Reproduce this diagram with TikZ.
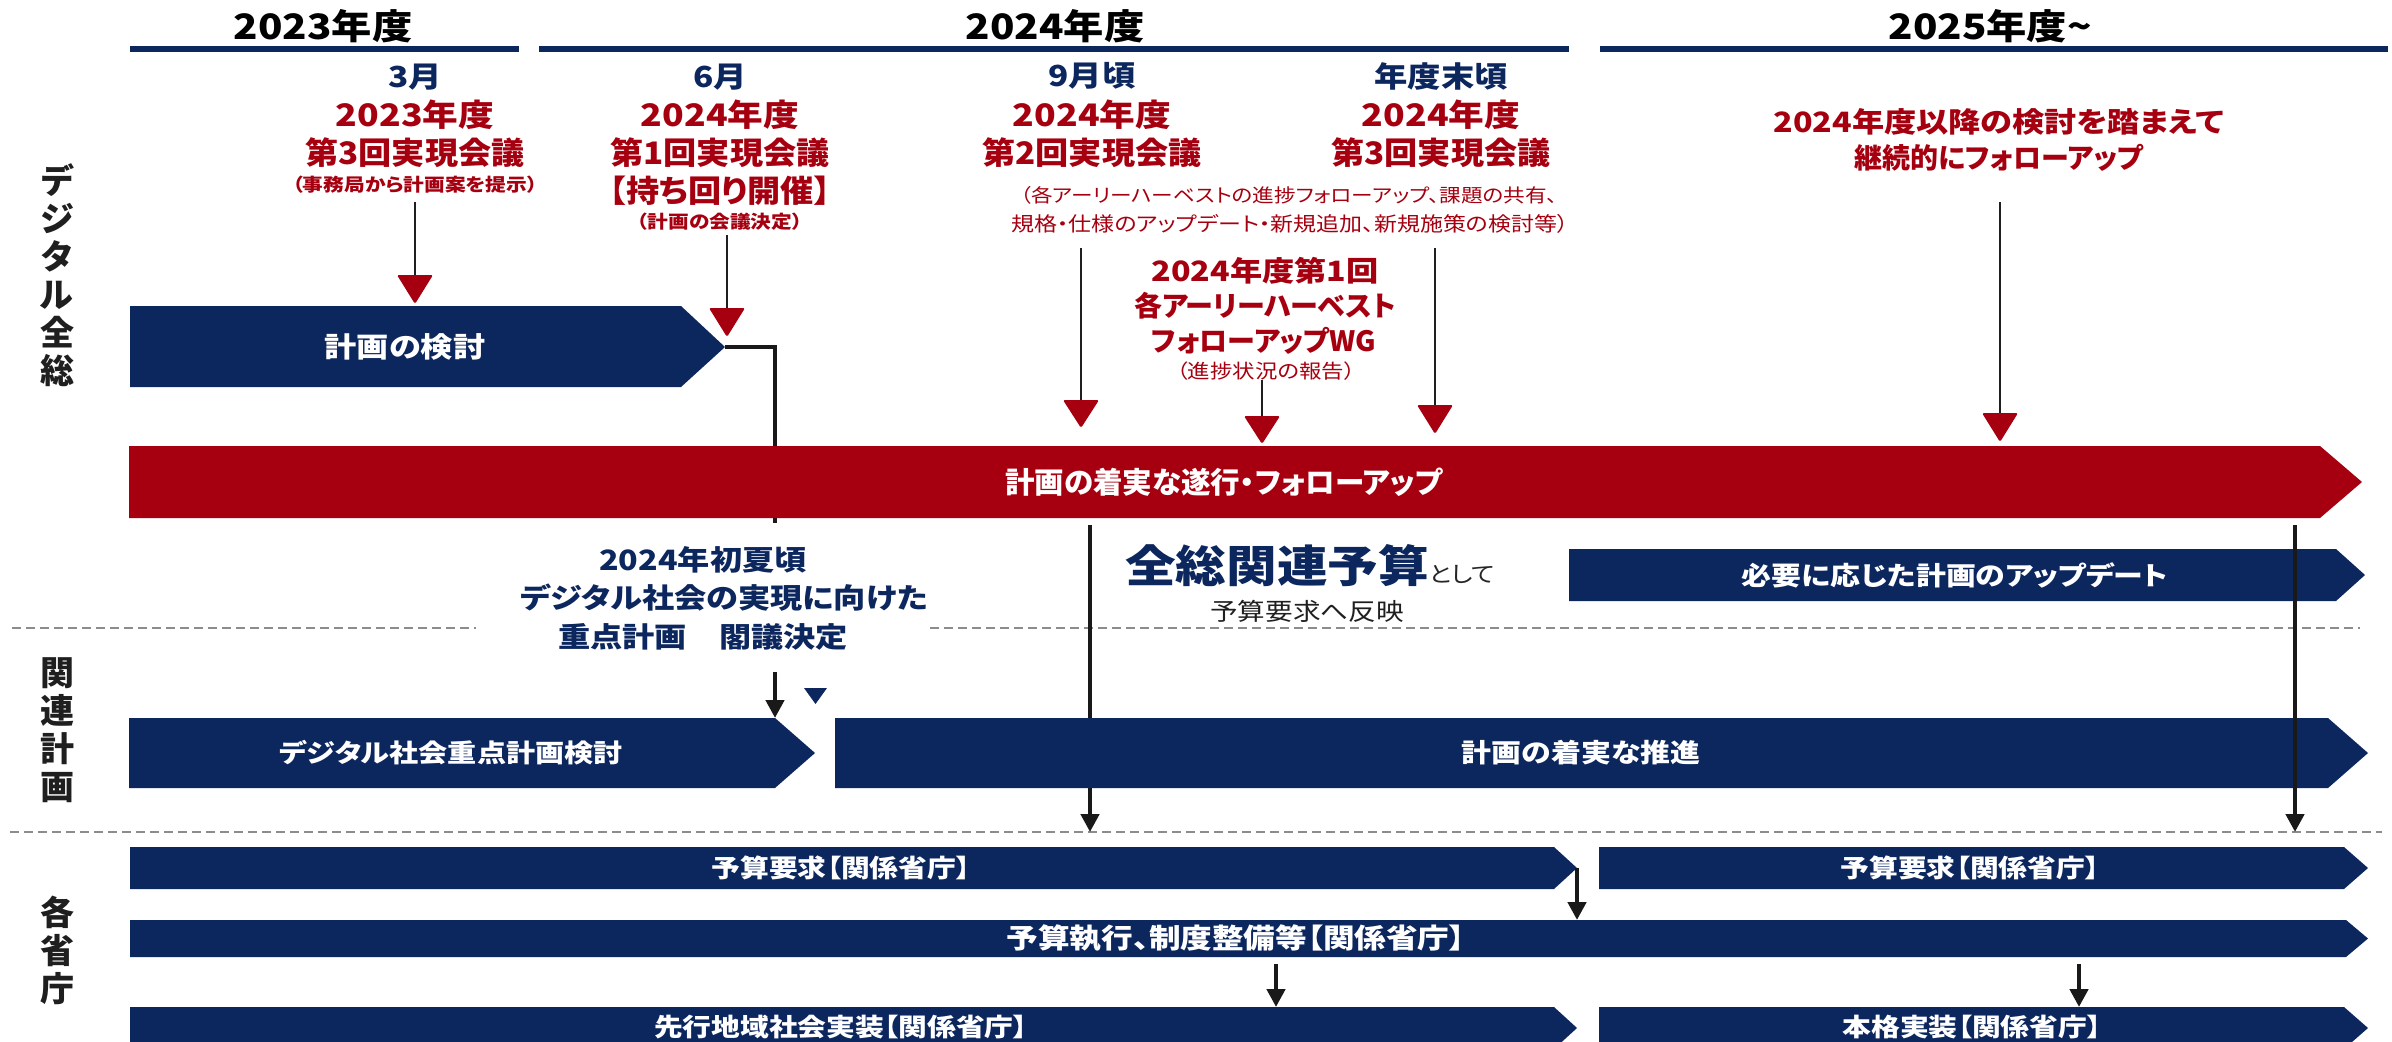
\documentclass[tikz,border=0pt]{standalone}
\usepackage{fontspec}
\setmainfont{Noto Sans CJK JP}[FakeStretch=1.15,RawFeature=+palt]
\newfontfamily\jpA{Noto Sans CJK JP}[FakeStretch=1.0,RawFeature=+palt]
\newfontfamily\jpB{Noto Sans CJK JP}[FakeStretch=1.07,RawFeature=+palt]
\usetikzlibrary{arrows.meta}
\definecolor{navy}{RGB}{12,38,94}
\definecolor{mred}{RGB}{166,0,16}
\definecolor{dgray}{RGB}{140,140,140}
\newcommand{\fsz}[1]{\fontsize{#1}{#1}\selectfont}
\newcommand{\redtri}[3]{\fill[mred,rounded corners=1.5pt] (#1-18,#2) -- (#1+18,#2) -- (#1,#3) -- cycle;}
\begin{document}
\begin{tikzpicture}[x=1pt,y=-1pt,
  every node/.style={inner sep=0pt, outer sep=0pt},
  hdr/.style={font=\fsz{35}\bfseries, text=black},
  mon/.style={font=\fsz{29}\bfseries, text=navy},
  rtx/.style={font=\fsz{31}\bfseries, text=mred},
  rmt/.style={font=\jpB\fsz{31}\bfseries, text=mred},
  wgtx/.style={font=\fsz{28}\bfseries, text=mred},
  wgkana/.style={font=\jpA\fsz{28}\bfseries, text=mred},
  rsm/.style={font=\fsz{18}\bfseries, text=mred},
  rrg/.style={font=\fsz{19.5}, text=mred},
  wtx/.style={font=\fsz{28}\bfseries, text=white},
  wmid/.style={font=\fsz{26}\bfseries, text=white},
  wsm/.style={font=\fsz{25}\bfseries, text=white},
  ntx/.style={font=\fsz{28}\bfseries, text=navy},
  sidelbl/.style={font=\jpA\fontsize{34}{38}\selectfont\bfseries, text=black!88, align=center},
  fineline/.style={line width=1.6pt, draw=black!88},
  heavyline/.style={line width=4.5pt, draw=black!90},
  downarr/.style={heavyline, -{Triangle[length=18pt,width=18pt]}},
  sepline/.style={draw=dgray, line width=2.5pt, dash pattern=on 9pt off 5pt},
  yrline/.style={draw=navy, line width=6pt}]
\useasboundingbox (0,0) rectangle (2392,1041);
\fill[white] (0,0) rectangle (2392,1041);

% separators
\draw[sepline] (12,628) -- (476,628);
\draw[sepline] (930,628) -- (2360,628);
\draw[sepline] (10,832) -- (2382,832);

% fiscal year headers
\draw[yrline] (130,49) -- (519,49);
\draw[yrline] (539,49) -- (1569,49);
\draw[yrline] (1600,49) -- (2388,49);
\node[hdr] (h1) at (323,26) {2023年度};
\node[hdr] (h2) at (1055,26) {2024年度};
\node[hdr] (h3) at (1990,26) {2025年度\textasciitilde};

% side labels
\node[sidelbl] (s1) at (57,275) {デ\\ジ\\タ\\ル\\全\\総};
\node[sidelbl] (s2) at (57,730) {関\\連\\計\\画};
\node[sidelbl] (s3) at (57,950) {各\\省\\庁};

% box: 計画の検討 and its connector (behind red bar)
\fill[navy] (130,306) -- (681,306) -- (725,347) -- (681,387) -- (130,387) -- cycle;
\node[wtx] (b1) at (405,347) {計画の検討};
\coordinate (b1tip) at (725,347);
\coordinate (b1bend) at (775,347);
\coordinate (b1end) at (775,523);
\draw[heavyline] (b1tip) -- (b1bend) -- (b1end);

% red bar
\fill[mred] (129,446) -- (2320,446) -- (2362,482) -- (2320,518) -- (129,518) -- cycle;
\node[font=\jpA\fsz{29.5}\bfseries, text=white] (bar) at (1224,482) {計画の着実な遂行・フォローアップ};

% left vertical (behind 推進 box)
\coordinate (vl1a) at (1090,525);
\coordinate (vl1b) at (1090,832);
\draw[downarr] (vl1a) -- (vl1b);

% update box
\fill[navy] (1569,549) -- (2336,549) -- (2365,575) -- (2336,601) -- (1569,601) -- cycle;
\node[wmid] (upd) at (1955,575) {必要に応じた計画のアップデート};

% 関連計画 boxes
\fill[navy] (129,718) -- (775,718) -- (815,753) -- (775,788) -- (129,788) -- cycle;
\node[font=\fsz{25.3}\bfseries, text=white] (rk) at (451,753) {デジタル社会重点計画検討};
\fill[navy] (835,718) -- (2328,718) -- (2368,753) -- (2328,788) -- (835,788) -- cycle;
\node[wmid] (sh) at (1581,753) {計画の着実な推進};

% right vertical (on top)
\coordinate (vl2a) at (2295,525);
\coordinate (vl2b) at (2295,832);
\draw[downarr] (vl2a) -- (vl2b);

% 2024初夏 block
\node[ntx] (k1) at (703,560) {2024年初夏頃};
\node[ntx] (k2) at (724,598) {デジタル社会の実現に向けた};
\node[ntx] (k3) at (703,637) {重点計画　閣議決定};
\coordinate (k3a) at (775,672);
\coordinate (k3b) at (775,718);
\draw[downarr] (k3a) -- (k3b);
\fill[navy] (804,688) -- (827,688) -- (815.5,704) -- cycle;

% 全総関連予算
\node[font=\fsz{44}\bfseries, text=navy] (zs) at (1277,566) {全総関連予算};
\node[font=\fsz{22}, text=black!85, anchor=base west] (zs2) at (zs.base east) {として};
\node[font=\fsz{24}, text=black!88] (zs3) at (1307,611) {予算要求へ反映};

% milestone 1
\node[mon] (m1a) at (415,77) {3月};
\node[rtx] (m1b) at (415,115) {2023年度};
\node[rmt] (m1c) at (415,153) {第3回実現会議};
\node[rsm] (m1d) at (415,185) {（事務局から計画案を提示）};
\coordinate (m1s) at (415,202);
\coordinate (m1t) at (415,280);
\draw[fineline] (m1s) -- (m1t);
\redtri{415}{275}{304}

% milestone 2
\node[mon] (m2a) at (720,77) {6月};
\node[rtx] (m2b) at (720,115) {2024年度};
\node[rmt] (m2c) at (720,153) {第1回実現会議};
\node[rmt] (m2d) at (720,191) {【持ち回り開催】};
\node[rsm] (m2e) at (720,222) {（計画の会議決定）};
\coordinate (m2s) at (727,235);
\coordinate (m2t) at (727,312);
\draw[fineline] (m2s) -- (m2t);
\redtri{727}{308}{337}

% milestone 3 & 4
\node[mon] (m3a) at (1092,76) {9月頃};
\node[rtx] (m3b) at (1092,115) {2024年度};
\node[rmt] (m3c) at (1092,153) {第2回実現会議};
\node[mon] (m4a) at (1441,76) {年度末頃};
\node[rtx] (m4b) at (1441,115) {2024年度};
\node[rmt] (m4c) at (1441,153) {第3回実現会議};
\node[font=\fsz{18.8}, text=mred] (p1) at (1289,195) {（各アーリーハーベストの進捗フォローアップ、課題の共有、};
\node[font=\fsz{20}, text=mred] (p2) at (1290,224) {規格・仕様のアップデート・新規追加、新規施策の検討等）};
\coordinate (m3s) at (1081,248);
\coordinate (m3t) at (1081,404);
\draw[fineline] (m3s) -- (m3t);
\redtri{1081}{400}{428}
\coordinate (m4s) at (1435,248);
\coordinate (m4t) at (1435,409);
\draw[fineline] (m4s) -- (m4t);
\redtri{1435}{405}{434}

% WG
\node[wgtx] (w1) at (1265,271) {2024年度第1回};
\node[wgkana] (w2) at (1265,306) {各アーリーハーベスト};
\node[wgkana] (w3) at (1264,341) {フォローアップWG};
\node[rrg] (w4) at (1266,371) {（進捗状況の報告）};
\coordinate (ws) at (1262,380);
\coordinate (wt) at (1262,420);
\draw[fineline] (ws) -- (wt);
\redtri{1262}{416}{444}

% 2025
\node[wgtx] (f1) at (1999,122) {2024年度以降の検討を踏まえて};
\node[wgkana] (f2) at (1999,158) {継続的にフォローアップ};
\coordinate (fs) at (2000,202);
\coordinate (ft) at (2000,417);
\draw[fineline] (fs) -- (ft);
\redtri{2000}{413}{442}

% 各省庁 rows
\fill[navy] (130,847) -- (1554,847) -- (1577,868) -- (1554,889) -- (130,889) -- cycle;
\node[wsm] (r1a) at (841,868) {予算要求【関係省庁】};
\fill[navy] (1599,847) -- (2344,847) -- (2368,868) -- (2344,889) -- (1599,889) -- cycle;
\node[wsm] (r1b) at (1970,868) {予算要求【関係省庁】};
\fill[navy] (130,920) -- (2346,920) -- (2368,938.5) -- (2346,957) -- (130,957) -- cycle;
\node[font=\fsz{27.5}\bfseries, text=white] (r2) at (1236,938) {予算執行、制度整備等【関係省庁】};
\fill[navy] (130,1007) -- (1554,1007) -- (1577,1028) -- (1554,1049) -- (130,1049) -- cycle;
\node[wsm] (r3a) at (841,1027) {先行地域社会実装【関係省庁】};
\fill[navy] (1599,1007) -- (2344,1007) -- (2368,1028) -- (2344,1049) -- (1599,1049) -- cycle;
\node[wsm] (r3b) at (1972,1027) {本格実装【関係省庁】};

\coordinate (a1s) at (1577,868);
\coordinate (a1t) at (1577,920);
\draw[downarr] (a1s) -- (a1t);
\coordinate (a2s) at (1276,964);
\coordinate (a2t) at (1276,1007);
\draw[downarr] (a2s) -- (a2t);
\coordinate (a3s) at (2079,964);
\coordinate (a3t) at (2079,1007);
\draw[downarr] (a3s) -- (a3t);
\end{tikzpicture}
\end{document}
